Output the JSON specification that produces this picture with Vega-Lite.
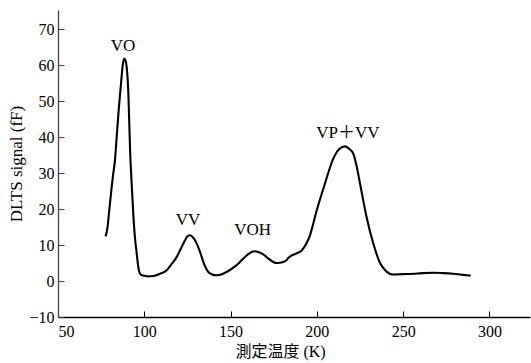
{
  "$schema": "https://vega.github.io/schema/vega-lite/v6.json",
  "width": 472,
  "height": 307,
  "autosize": {"type": "none"},
  "padding": {"left": 58, "top": 10, "right": 1, "bottom": 46},
  "config": {
    "view": {"stroke": null},
    "font": "Liberation Serif"
  },
  "layer": [
    {
      "data": {"values": [
        {"T": 77.6, "S": 12.4}, {"T": 78.6, "S": 14.6}, {"T": 79.7, "S": 19.6}, {"T": 81.1, "S": 26.1},
        {"T": 82.0, "S": 29.8}, {"T": 83.0, "S": 33.5}, {"T": 84.0, "S": 40.0}, {"T": 85.3, "S": 48.3},
        {"T": 86.5, "S": 54.8}, {"T": 87.5, "S": 59.9}, {"T": 88.4, "S": 61.8}, {"T": 89.2, "S": 61.2},
        {"T": 89.8, "S": 59.4}, {"T": 90.7, "S": 53.0}, {"T": 91.3, "S": 43.8}, {"T": 91.8, "S": 36.0},
        {"T": 92.7, "S": 27.0}, {"T": 93.6, "S": 18.8}, {"T": 94.6, "S": 12.0}, {"T": 95.6, "S": 7.7},
        {"T": 96.5, "S": 4.0}, {"T": 97.1, "S": 2.5}, {"T": 98.0, "S": 1.8}, {"T": 99.4, "S": 1.5},
        {"T": 102.0, "S": 1.3}, {"T": 105.2, "S": 1.4}, {"T": 109.0, "S": 2.0}, {"T": 113.0, "S": 3.0},
        {"T": 116.0, "S": 4.8}, {"T": 118.8, "S": 6.7}, {"T": 121.0, "S": 8.8}, {"T": 123.6, "S": 11.3},
        {"T": 125.0, "S": 12.4}, {"T": 126.5, "S": 12.7}, {"T": 128.0, "S": 12.2}, {"T": 130.4, "S": 10.4},
        {"T": 132.5, "S": 7.8}, {"T": 134.2, "S": 5.3}, {"T": 137.1, "S": 2.5}, {"T": 139.0, "S": 1.9},
        {"T": 141.9, "S": 1.6}, {"T": 145.0, "S": 1.9}, {"T": 147.7, "S": 2.5}, {"T": 153.5, "S": 4.4},
        {"T": 159.3, "S": 7.1}, {"T": 162.0, "S": 8.0}, {"T": 164.1, "S": 8.25}, {"T": 166.5, "S": 8.0},
        {"T": 168.9, "S": 7.4}, {"T": 171.8, "S": 6.3}, {"T": 174.7, "S": 5.3}, {"T": 177.0, "S": 5.0},
        {"T": 180.5, "S": 5.3}, {"T": 182.5, "S": 5.8}, {"T": 183.4, "S": 6.4}, {"T": 185.4, "S": 7.1},
        {"T": 188.0, "S": 7.6}, {"T": 191.2, "S": 8.5}, {"T": 194.0, "S": 10.5}, {"T": 196.0, "S": 12.7},
        {"T": 199.9, "S": 19.6}, {"T": 204.7, "S": 27.1}, {"T": 209.5, "S": 34.0}, {"T": 213.0, "S": 36.7},
        {"T": 216.3, "S": 37.4}, {"T": 219.0, "S": 36.6}, {"T": 221.1, "S": 35.4}, {"T": 223.0, "S": 32.0},
        {"T": 225.0, "S": 27.1}, {"T": 228.8, "S": 17.8}, {"T": 232.7, "S": 10.4}, {"T": 236.6, "S": 5.0},
        {"T": 240.0, "S": 2.8}, {"T": 244.3, "S": 1.8}, {"T": 250.0, "S": 1.9}, {"T": 255.9, "S": 2.0},
        {"T": 261.0, "S": 2.2}, {"T": 267.4, "S": 2.3}, {"T": 273.0, "S": 2.2}, {"T": 279.0, "S": 2.0},
        {"T": 285.0, "S": 1.7}, {"T": 289.1, "S": 1.5}
      ]},
      "mark": {"type": "line", "color": "#000", "strokeWidth": 2.1, "interpolate": "monotone"},
      "encoding": {
        "x": {
          "field": "T", "type": "quantitative",
          "scale": {"domain": [50, 323.5], "nice": false, "zero": false},
          "axis": {
            "values": [50, 100, 150, 200, 250, 300], "tickCount": 20, "tickSize": -6, "labelPadding": 12,
            "title": "測定温度 (K)", "titlePadding": 4, "titleX": 222,
            "labelFont": "Liberation Serif", "labelFontSize": 16, "labelColor": "#000",
            "titleFont": "Liberation Serif, Noto Sans CJK JP", "titleFontSize": 16, "titleColor": "#000", "titleFontWeight": "normal",
            "domainColor": "#000", "domainWidth": 1.3, "tickColor": "#000", "tickWidth": 1,
            "labelOverlap": false, "grid": false
          }
        },
        "y": {
          "field": "S", "type": "quantitative",
          "scale": {"domain": [-10, 75.3], "nice": false, "zero": false},
          "axis": {
            "values": [-10, 0, 10, 20, 30, 40, 50, 60, 70], "tickCount": 20, "tickSize": -6, "labelPadding": 10,
            "title": "DLTS signal (fF)", "titlePadding": 3,
            "labelFont": "Liberation Serif", "labelFontSize": 16, "labelColor": "#000",
            "titleFont": "Liberation Serif", "titleFontSize": 17, "titleColor": "#000", "titleFontWeight": "normal",
            "domainColor": "#444", "domainWidth": 1.3, "tickColor": "#444", "tickWidth": 1,
            "labelOverlap": false, "grid": false
          }
        }
      }
    },
    {
      "data": {"values": [
        {"label": "VO", "T": 87.7, "S": 65.2},
        {"label": "VV", "T": 125.3, "S": 16.9},
        {"label": "VOH", "T": 162.8, "S": 14.1},
        {"label": "VP＋VV", "T": 218.0, "S": 41.0}
      ]},
      "mark": {"type": "text", "font": "Liberation Serif, Noto Sans CJK JP", "fontSize": 17, "color": "#000", "baseline": "middle", "align": "center"},
      "encoding": {
        "x": {"field": "T", "type": "quantitative"},
        "y": {"field": "S", "type": "quantitative"},
        "text": {"field": "label"}
      }
    },
    {
      "mark": {"type": "rule", "color": "#000", "strokeWidth": 1.4},
      "encoding": {
        "y": {"datum": 75.3}
      }
    }
  ]
}
